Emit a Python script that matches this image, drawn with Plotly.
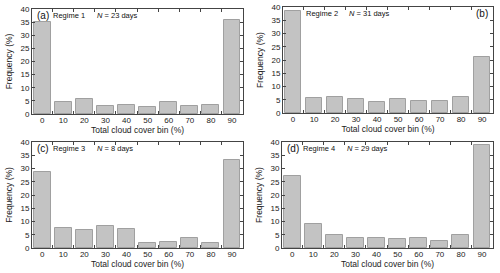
import plotly.graph_objects as go

bins = [0, 10, 20, 30, 40, 50, 60, 70, 80, 90]
freq_a = [35.0, 4.6, 5.6, 3.0, 3.5, 2.5, 4.6, 3.0, 3.5, 36.0]
freq_b = [38.4, 5.5, 5.9, 5.4, 4.0, 5.1, 4.4, 4.6, 6.0, 21.0]
freq_c = [28.8, 7.6, 6.9, 8.2, 7.1, 1.8, 2.3, 3.7, 1.8, 33.2]
freq_d = [27.1, 9.0, 4.9, 3.8, 3.8, 3.5, 3.8, 2.6, 4.9, 38.7]
labels = ["(a)", "(b)", "(c)", "(d)"]
regimes = ["Regime 1", "Regime 2", "Regime 3", "Regime 4"]
ndays = [23, 31, 8, 29]
yticks = [0, 5, 10, 15, 20, 25, 30, 35, 40]

W, H = 500, 273
panels = [
    (32, 243, 9, 114),
    (283, 493, 7, 113),
    (32, 243, 142, 248),
    (282, 493, 142, 248),
]
series = [freq_a, freq_b, freq_c, freq_d]

fig = go.Figure()
font = "Liberation Sans, Arial, sans-serif"
axcol = "#444"
txt = "#222"
for i, (x0, x1, y0, y1) in enumerate(panels):
    n = i + 1
    xa = "x" if n == 1 else f"x{n}"
    ya = "y" if n == 1 else f"y{n}"
    fig.add_trace(go.Bar(x=bins, y=series[i], width=8, xaxis=xa, yaxis=ya,
                         marker=dict(color="#c3c3c3", line=dict(color="#a0a0a0", width=1)),
                         showlegend=False))
    xkey = "xaxis" if n == 1 else f"xaxis{n}"
    ykey = "yaxis" if n == 1 else f"yaxis{n}"
    fig.layout[xkey] = dict(domain=[x0 / W, x1 / W], anchor=ya, range=[-4.8, 95.2],
                            tickvals=bins, ticks="inside", ticklen=0, automargin=False,
                            ticklabelstandoff=-2,
                            minor=dict(tickmode="array", tickvals=[5, 15, 25, 35, 45, 55, 65, 75, 85],
                                       ticks="inside", ticklen=3, tickcolor=axcol, tickwidth=1),
                            showline=True, linecolor=axcol, linewidth=1, mirror="allticks",
                            showgrid=False, zeroline=False,
                            tickfont=dict(size=8, family=font, color=txt),
                            title=dict(text="Total cloud cover bin (%)", standoff=1,
                                       font=dict(size=8.5, family=font, color=txt)))
    fig.layout[ykey] = dict(domain=[1 - y1 / H, 1 - y0 / H], anchor=xa, range=[0, 40],
                            tickvals=yticks, ticks="inside", ticklen=3, tickcolor=axcol,
                            automargin=False,
                            showline=True, linecolor=axcol, linewidth=1, mirror="allticks",
                            showgrid=False, zeroline=False,
                            tickfont=dict(size=8, family=font, color=txt),
                            title=dict(text="Frequency (%)", standoff=6,
                                       font=dict(size=8.5, family=font, color=txt)))
    ty = 1 - (y0 + 6.5) / H
    if n == 2:
        fig.add_annotation(x=(x1 - 3) / W, y=ty, xref="paper", yref="paper", text=labels[i],
                           xanchor="right", yanchor="middle", showarrow=False,
                           font=dict(size=10, family=font, color="#111"))
        rx, nx = 304, 347
    else:
        fig.add_annotation(x=(x0 + 3) / W, y=ty, xref="paper", yref="paper", text=labels[i],
                           xanchor="left", yanchor="middle", showarrow=False,
                           font=dict(size=10, family=font, color="#111"))
        rx, nx = x0 + 19, x0 + 63
    fig.add_annotation(x=rx / W, y=ty, xref="paper", yref="paper", text=regimes[i],
                       xanchor="left", yanchor="middle", showarrow=False,
                       font=dict(size=7.5, family=font, color="#111"))
    fig.add_annotation(x=nx / W, y=ty, xref="paper", yref="paper",
                       text=f"<i>N</i> = {ndays[i]} days",
                       xanchor="left", yanchor="middle", showarrow=False,
                       font=dict(size=7.5, family=font, color="#111"))

fig.update_layout(width=W, height=H, margin=dict(l=0, r=0, t=0, b=0),
                  paper_bgcolor="white", plot_bgcolor="white", bargap=0)
fig.write_html("out.html", config={"displayModeBar": False},
               post_script="document.body.style.margin='0';document.body.style.overflow='hidden';")
